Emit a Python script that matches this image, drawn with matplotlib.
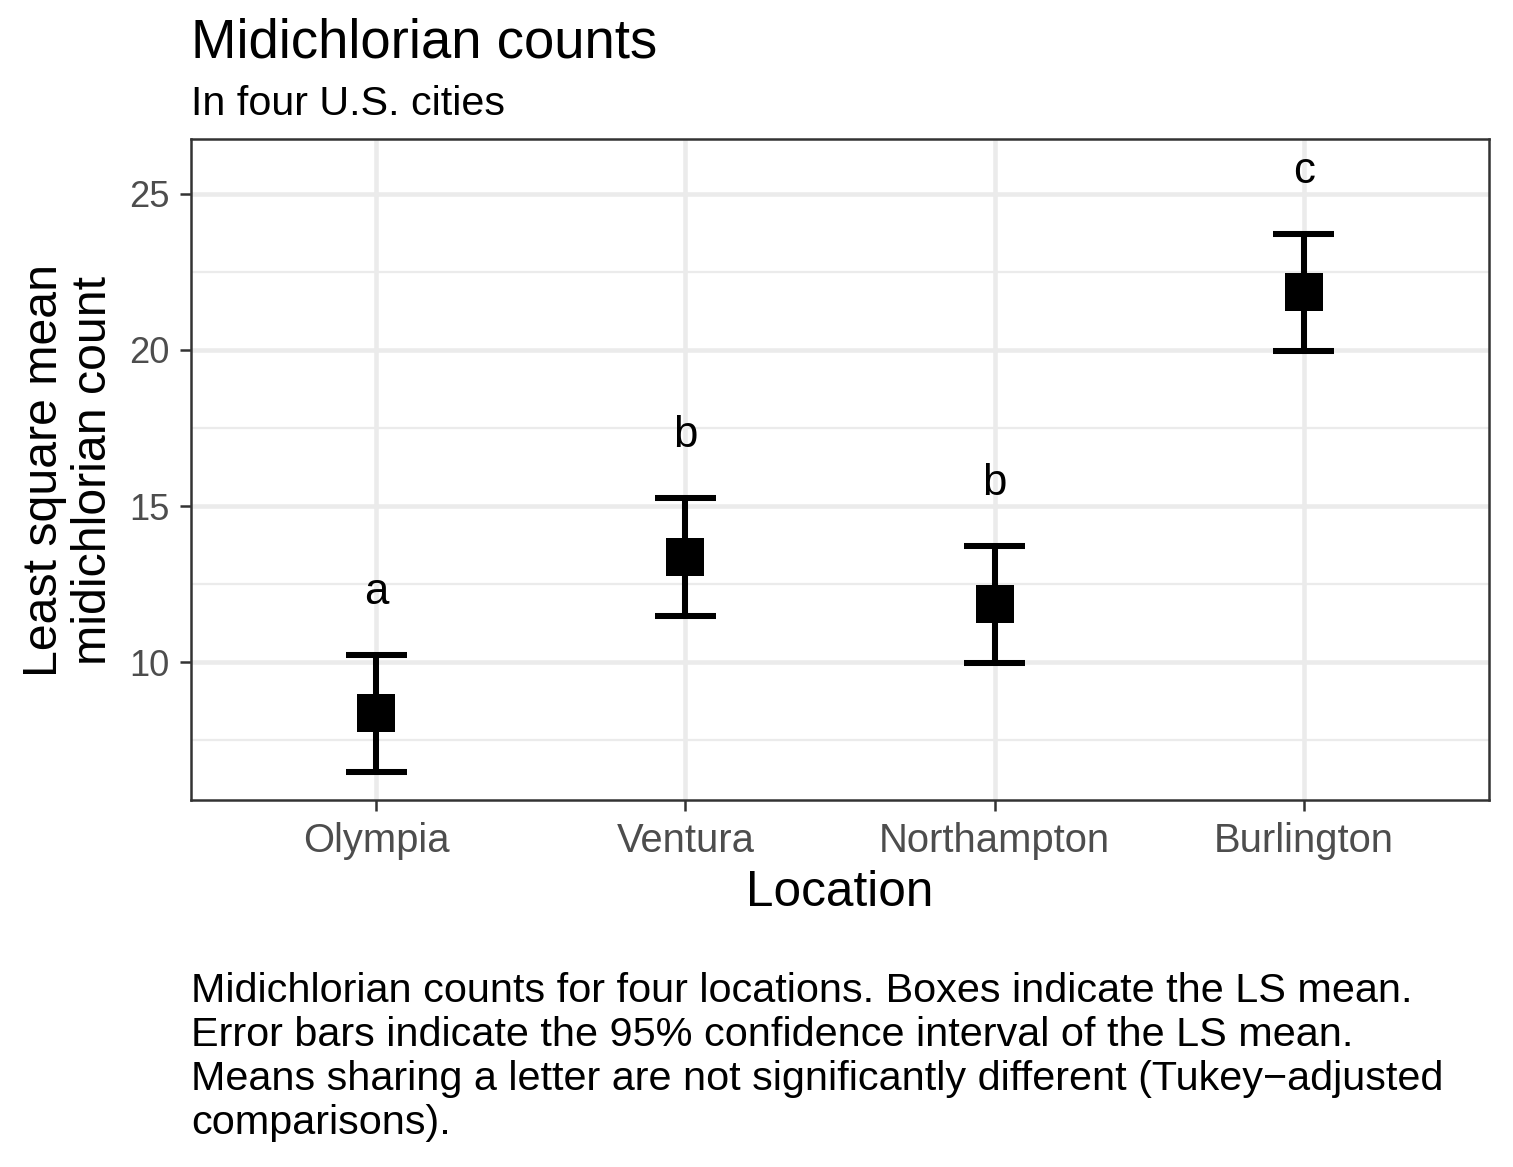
import matplotlib
matplotlib.use("Agg")
import matplotlib.pyplot as plt
import numpy as np

# ---- data ----
locations = ["Olympia", "Ventura", "Northampton", "Burlington"]
ls_mean = [8.37, 13.37, 11.86, 21.86]
lower_cl = [6.47, 11.47, 9.97, 19.97]
upper_cl = [10.22, 15.26, 13.72, 23.72]
letters = ["a", "b", "b", "c"]
y_ticks = [10, 15, 20, 25]
y_minor = [7.5, 12.5, 17.5, 22.5]

title = "Midichlorian counts"
subtitle = "In four U.S. cities"
caption_lines = [
    "Midichlorian counts for four locations. Boxes indicate the LS mean.",
    "Error bars indicate the 95% confidence interval of the LS mean.",
    "Means sharing a letter are not significantly different (Tukey\u2212adjusted",
    "comparisons).",
]

plt.rcParams['font.family'] = ['Liberation Sans', 'DejaVu Sans']

W, H = 1513, 1167
DPI = 300
fig = plt.figure(figsize=(W / DPI, H / DPI), dpi=DPI)
fig.patch.set_facecolor("white")

def fx(px):
    return px / W

def fy(py):
    return 1 - py / H

left, right, top, bottom = 191, 1489, 139, 800
ax = fig.add_axes([fx(left), fy(bottom), fx(right) - fx(left), fy(top) - fy(bottom)])

x = np.arange(1, len(locations) + 1)
mean = np.array(ls_mean)
lo = np.array(lower_cl)
hi = np.array(upper_cl)

# grid
for yv in y_minor:
    ax.axhline(yv, color="#EBEBEB", lw=0.55, zorder=0)
for yv in y_ticks:
    ax.axhline(yv, color="#EBEBEB", lw=1.1, zorder=0)
for xv in x:
    ax.axvline(xv, color="#EBEBEB", lw=1.1, zorder=0)

# error bars
ax.errorbar(x, mean, yerr=[mean - lo, hi - mean], fmt="none", ecolor="black",
            elinewidth=1.45, capsize=0, zorder=2)
cap_half = 0.1
ax.hlines(lo, x - cap_half, x + cap_half, color="black", lw=1.45, zorder=2)
ax.hlines(hi, x - cap_half, x + cap_half, color="black", lw=1.45, zorder=2)
ax.plot(x, mean, linestyle="none", marker="s", markersize=9.1, color="black",
        markeredgewidth=0, zorder=3)

for xi, h, lab in zip(x, hi, letters):
    ax.text(xi, h + 1.63, lab, ha="center", va="baseline", fontsize=10.5, color="black")

ax.set_xlim(0.4, 4.6)
ax.set_ylim(5.58, 26.76)
ax.set_xticks(x)
ax.set_xticklabels(locations, fontsize=9.6, color="#4D4D4D")
ax.set_yticks(y_ticks)
ax.set_yticklabels([str(v) for v in y_ticks], fontsize=8.7, color="#4D4D4D")
ax.tick_params(axis="both", length=2.75, width=0.6, color="#333333", pad=2.5)
for sp in ax.spines.values():
    sp.set_color("#333333")
    sp.set_linewidth(0.6)

# axis titles
fig.text(fx(840), fy(906), "Location", ha="center", va="baseline", fontsize=11.9, color="black")
fig.text(fx(57), fy(470), "Least square mean", ha="center", va="baseline", rotation=90,
         rotation_mode="anchor", fontsize=11.6, color="black")
fig.text(fx(106), fy(470), "midichlorian count", ha="center", va="baseline", rotation=90,
         rotation_mode="anchor", fontsize=11.6, color="black")

# title / subtitle
fig.text(fx(191), fy(58), title, ha="left", va="baseline", fontsize=13.1, color="black")
fig.text(fx(191), fy(115), subtitle, ha="left", va="baseline", fontsize=9.9, color="black")

# caption
for i, line in enumerate(caption_lines):
    fig.text(fx(191), fy(1002 + 44 * i), line, ha="left", va="baseline", fontsize=9.93, color="black")

fig.savefig("out.png", dpi=DPI, facecolor="white")
